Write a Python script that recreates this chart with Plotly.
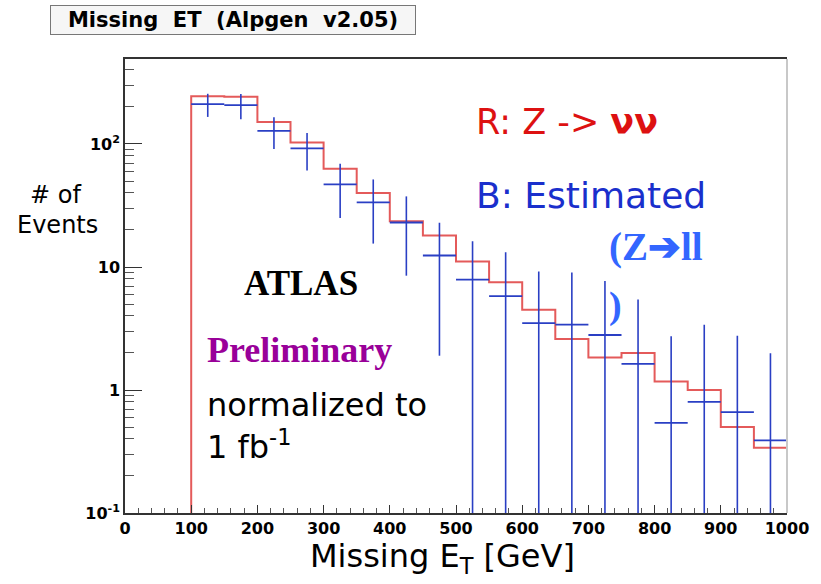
import plotly.graph_objects as go

# ---------------- data ----------------
bin_low = [100, 150, 200, 250, 300, 350, 400, 450, 500, 550,
           600, 650, 700, 750, 800, 850, 900, 950]
bin_width = 50
red_znunu = [245, 242, 151, 103, 63, 40, 23.5, 18, 11.1, 7.5,
             4.5, 2.6, 1.84, 2.0, 1.17, 1.0, 0.50, 0.34]
blue_est = [211, 207, 128, 92, 47, 33.5, 23, 12.4, 7.9, 5.8,
            3.5, 3.4, 2.8, 1.63, 0.54, 0.80, 0.66, 0.39]
blue_err = [45, 48, 37, 31, 22, 18, 14.5, 10.5, 8.3, 7.4,
            5.7, 5.6, 4.9, 3.8, 2.2, 2.6, 2.1, 1.6]
x_ticks = [0, 100, 200, 300, 400, 500, 600, 700, 800, 900, 1000]
y_ticks = [0.1, 1, 10, 100]
y_ticktext = ["10<sup>-1</sup>", "1", "10", "10<sup>2</sup>"]
y_min = 0.1

# ---------------- geometry helpers ----------------
W, H = 821, 584
L, R, T, B = 125, 795, 59, 513


def px(x):
    return (x - L) / (R - L)


def py(y):
    return (B - y) / (B - T)


# red histogram outline (step)
hx = [bin_low[0]] + bin_low + [bin_low[-1] + bin_width]
hy = [y_min * 0.5] + red_znunu + [red_znunu[-1]]

centers = [b + bin_width / 2 for b in bin_low]
err_minus = [e if v - e > 0 else v - 1e-4 for v, e in zip(blue_est, blue_err)]

fig = go.Figure()
fig.add_trace(go.Scatter(
    x=hx, y=hy, mode="lines", line=dict(shape="hv", color="#e45a5a", width=2),
    hoverinfo="skip", showlegend=False))
fig.add_trace(go.Scatter(
    x=centers, y=blue_est, mode="markers",
    marker=dict(size=1, color="#2a3fc4"),
    error_x=dict(type="constant", value=bin_width / 2, width=0, thickness=1.8, color="#2a3fc4"),
    error_y=dict(type="data", array=blue_err, arrayminus=err_minus, symmetric=False,
                 width=0, thickness=1.6, color="#2a3fc4"),
    showlegend=False))

minor_y = [m * d for d in [0.1, 1, 10, 100] for m in range(2, 10) if m * d < 500]

fig.update_layout(
    width=W, height=H,
    margin=dict(l=L, r=W - R, t=T, b=H - B),
    paper_bgcolor="white", plot_bgcolor="white",
    showlegend=False,
    font=dict(family="DejaVu Sans", color="black"),
    xaxis=dict(range=[0, 1000], tickvals=x_ticks, ticks="inside", ticklen=8,
               tickcolor="#333", showgrid=False, zeroline=False,
               showline=True, linecolor="#333", linewidth=1.5, mirror=True,
               tickfont=dict(family="DejaVu Sans", size=16, weight="bold", color="black"),
               minor=dict(ticks="inside", ticklen=5, dtick=20, tickcolor="#555")),
    yaxis=dict(type="log", range=[-1, 2.691], tickvals=y_ticks, ticktext=y_ticktext,
               ticks="inside", ticklen=17, tickcolor="#333", showgrid=False,
               zeroline=False, showline=True, linecolor="#333", linewidth=1.5,
               tickfont=dict(family="DejaVu Sans", size=16, weight="bold", color="black"),
               minor=dict(ticks="inside", ticklen=9, tickvals=minor_y, tickcolor="#555")),
)

# right frame line (light grey)
fig.add_shape(type="line", xref="paper", yref="paper", x0=1, x1=1, y0=0, y1=1,
              line=dict(color="#c8c8c8", width=2))

ann = []
# title box
ann.append(dict(x=px(234), y=py(20), text="Missing  ET  (Alpgen  v2.05)",
                font=dict(family="DejaVu Sans", size=21, weight="bold", color="black"),
                bordercolor="#777", borderwidth=1, bgcolor="#f6f6f6",
                width=362, height=26, xanchor="center", yanchor="middle"))
# y axis title
ann.append(dict(x=px(55), y=py(195), text="# of", font=dict(size=24),
                xanchor="center", yanchor="middle"))
ann.append(dict(x=px(57), y=py(225), text="Events", font=dict(size=24),
                xanchor="center", yanchor="middle"))
# x axis title
ann.append(dict(x=px(446), y=py(558), text="Missing E<sub>T</sub> [GeV]",
                font=dict(size=32), xanchor="center", yanchor="middle"))
# legend-like texts
ann.append(dict(x=px(478), y=py(122), text="R: Z -> <b>νν</b>",
                font=dict(size=35, color="#dd1111"), xanchor="left", yanchor="middle"))
ann.append(dict(x=px(478), y=py(195), text="B: Estimated",
                font=dict(size=36, color="#1a2fcc"), xanchor="left", yanchor="middle"))
ann.append(dict(x=px(613), y=py(247), text="(Z➔ll",
                font=dict(family="Liberation Serif", size=39, weight="bold", color="#3366ff"),
                xanchor="left", yanchor="middle"))
ann.append(dict(x=px(613), y=py(305), text=")",
                font=dict(family="Liberation Serif", size=38, weight="bold", color="#3366ff"),
                xanchor="left", yanchor="middle"))
ann.append(dict(x=px(303), y=py(283), text="ATLAS",
                font=dict(family="Liberation Serif", size=35, weight="bold", color="black"),
                xanchor="center", yanchor="middle"))
ann.append(dict(x=px(206), y=py(350), text="Preliminary",
                font=dict(family="Liberation Serif", size=36, weight="bold", color="#990099"),
                xanchor="left", yanchor="middle"))
ann.append(dict(x=px(206), y=py(405), text="normalized to",
                font=dict(size=32, color="black"), xanchor="left", yanchor="middle"))
ann.append(dict(x=px(206), y=py(445), text="1 fb<sup>-1</sup>",
                font=dict(size=32, color="black"), xanchor="left", yanchor="middle"))

for a in ann:
    a.setdefault("xref", "paper")
    a.setdefault("yref", "paper")
    a.setdefault("showarrow", False)
    fig.add_annotation(**a)

fig.write_html("out.html", config={"displayModeBar": False},
               post_script="document.body.style.margin='0';")
